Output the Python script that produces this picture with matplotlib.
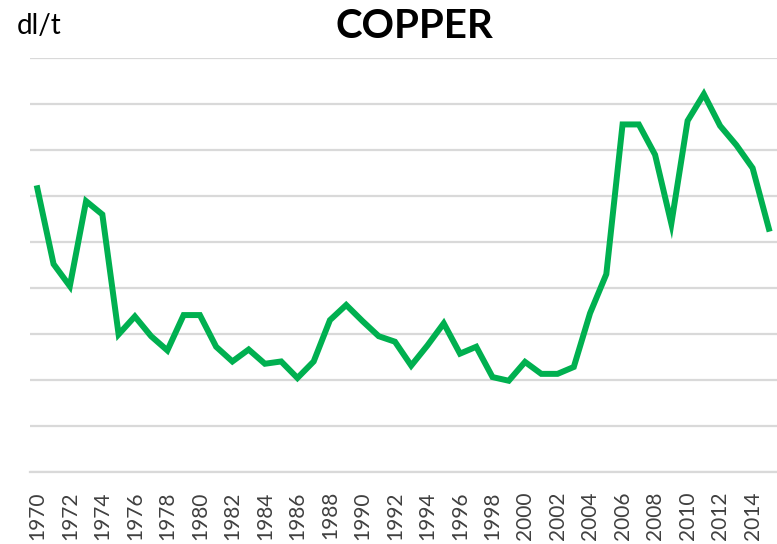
import numpy as np
import matplotlib
matplotlib.use("Agg")
import matplotlib.pyplot as plt

years = list(range(1970, 2016))
price = [6.17, 4.52, 4.04, 5.89, 5.60, 2.99, 3.38, 2.95, 2.64, 3.41,
         3.41, 2.72, 2.40, 2.66, 2.35, 2.40, 2.04, 2.40, 3.30, 3.63,
         3.28, 2.95, 2.83, 2.31, 2.75, 3.23, 2.57, 2.72, 2.06, 1.98,
         2.39, 2.13, 2.13, 2.28, 3.45, 4.30, 7.56, 7.56, 6.90, 5.40,
         7.64, 8.22, 7.53, 7.11, 6.61, 5.29]
tick_years = list(range(1970, 2016, 2))

plt.rcParams['font.family'] = ['Lato', 'DejaVu Sans']

fig = plt.figure(figsize=(7.77, 5.44), dpi=100)
ax = fig.add_axes([30 / 777, 1 - 471.7 / 544, 1 - 30 / 777, (471.7 - 58.3) / 544])

ax.plot(years, price, color='#00B050', lw=4.3, solid_joinstyle='miter', zorder=3)

ax.set_ylim(0, 9)
ax.set_xlim(1969.55, 2015.5)
ax.set_yticks(np.arange(0, 10, 1))
ax.yaxis.grid(True, color='#D9D9D9', lw=1.6)
ax.set_axisbelow(True)
ax.tick_params(axis='y', left=False, labelleft=False)
ax.set_xticks(tick_years)
ax.set_xticklabels([str(y) for y in tick_years], rotation=90, fontsize=15, color='#404040')
ax.tick_params(axis='x', length=0, pad=14)
for s in ['top', 'right', 'left']:
    ax.spines[s].set_visible(False)
ax.spines['bottom'].set_color('#D9D9D9')
ax.spines['bottom'].set_linewidth(1.6)

fig.text(414 / 777, 1 - 26 / 544, 'COPPER', ha='center', va='center',
         fontsize=29, fontweight='bold', color='black')
fig.text(17 / 777, 1 - 26 / 544, 'dl/t', ha='left', va='center',
         fontsize=20, color='black')

fig.savefig('out.png', dpi=100)
